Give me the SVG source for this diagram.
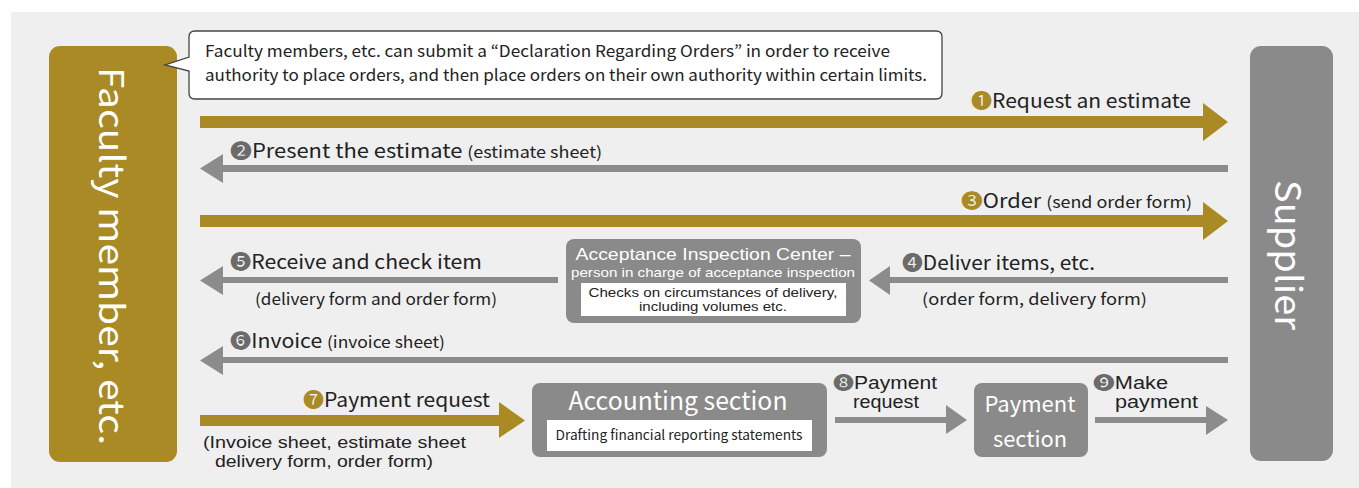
<svg xmlns="http://www.w3.org/2000/svg" width="1359" height="488" viewBox="0 0 1359 488">
<style>
.t{font-family:"Noto Sans CJK JP","Noto Sans",sans-serif;fill:#222;}
.l{font-family:"Liberation Sans","Noto Sans CJK JP",sans-serif;fill:#222;}
.lw{font-family:"Liberation Sans","Noto Sans CJK JP",sans-serif;fill:#fff;}
.w{font-family:"Noto Sans CJK JP","Noto Sans",sans-serif;fill:#fff;}
.g{fill:#a98a24;}
.d{fill:#6b6b6b;}
.gold{fill:#a98a24;}
.gray{fill:#8c8c8c;}
.box{fill:#8a8a8a;}
</style>
<rect x="11" y="12" width="1348" height="476" fill="#efefef"/>

<g id="faculty">
<rect x="49" y="46" width="128" height="416" rx="11" class="gold"/>
<text class="w" font-size="34" text-anchor="middle" dominant-baseline="central" transform="translate(113,256) rotate(90)" textLength="378" lengthAdjust="spacingAndGlyphs">Faculty member, etc.</text>
</g>

<g id="supplier">
<rect x="1250" y="46" width="83" height="415" rx="11" class="box"/>
<text class="w" font-size="36" text-anchor="middle" dominant-baseline="central" transform="translate(1291,255) rotate(90)" textLength="150" lengthAdjust="spacingAndGlyphs">Supplier</text>
</g>

<g id="note">
<path d="M195,31 H936 Q942,31 942,37 V93 Q942,99 936,99 H195 Q189,99 189,93 V71 L165,65 L189,57 V37 Q189,31 195,31 Z" fill="#fff" stroke="#444" stroke-width="1.3"/>
<text class="t" font-size="16" x="205" y="57" textLength="685" lengthAdjust="spacingAndGlyphs">Faculty members, etc. can submit a “Declaration Regarding Orders” in order to receive</text>
<text class="t" font-size="16" x="205" y="81" textLength="722" lengthAdjust="spacingAndGlyphs">authority to place orders, and then place orders on their own authority within certain limits.</text>
</g>

<g id="acceptance">
<rect x="566" y="239" width="295" height="84" rx="8" class="box"/>
<rect x="581" y="283" width="265" height="33" fill="#fff"/>
<text class="lw" font-size="17" x="713" y="260" text-anchor="middle" textLength="275" lengthAdjust="spacingAndGlyphs">Acceptance Inspection Center –</text>
<text class="lw" font-size="13" x="713" y="277" text-anchor="middle" textLength="284" lengthAdjust="spacingAndGlyphs">person in charge of acceptance inspection</text>
<text class="l" font-size="12.5" x="713" y="297" text-anchor="middle" textLength="249" lengthAdjust="spacingAndGlyphs">Checks on circumstances of delivery,</text>
<text class="l" font-size="12.5" x="713" y="311" text-anchor="middle" textLength="148" lengthAdjust="spacingAndGlyphs">including volumes etc.</text>
</g>

<g id="accounting">
<rect x="532" y="383" width="295" height="74" rx="8" class="box"/>
<rect x="547" y="420" width="265" height="31" fill="#fff"/>
<text class="w" font-size="25" x="678" y="410" text-anchor="middle" textLength="219" lengthAdjust="spacingAndGlyphs">Accounting section</text>
<text class="t" font-size="13.5" x="679" y="440" text-anchor="middle" textLength="247" lengthAdjust="spacingAndGlyphs">Drafting financial reporting statements</text>
</g>

<g id="payment">
<rect x="974" y="383" width="114" height="74" rx="8" class="box"/>
<text class="w" font-size="22" x="1030" y="412" text-anchor="middle" textLength="91" lengthAdjust="spacingAndGlyphs">Payment</text>
<text class="w" font-size="22" x="1030" y="447" text-anchor="middle" textLength="74" lengthAdjust="spacingAndGlyphs">section</text>
</g>

<g id="connectors">
<path class="gold" d="M200,116 H1203 V103 L1228,122 L1203,141 V128 H200 Z"/>
<path class="gray" d="M1228,165 H223 V154 L200,168.5 L223,183 V172 H1228 Z"/>
<path class="gold" d="M200,215 H1203 V202 L1228,221 L1203,240 V227 H200 Z"/>
<path class="gray" d="M558,277 H223 V266 L200,280.5 L223,295 V283 H558 Z"/>
<path class="gray" d="M1228,277 H890 V266 L869,280.5 L890,295 V283 H1228 Z"/>
<path class="gray" d="M1228,357 H223 V346 L200,360.5 L223,375 V363 H1228 Z"/>
<path class="gold" d="M200,415 H499 V402 L525,420.5 L499,438 V426 H200 Z"/>
<path class="gray" d="M835,417 H946 V405 L967,420 L946,434 V423 H835 Z"/>
<path class="gray" d="M1095,417 H1206 V406 L1228,420 L1206,435 V423 H1095 Z"/>
</g>

<g id="labels">
<text class="t" font-size="19.5" x="971" y="108" textLength="220" lengthAdjust="spacingAndGlyphs"><tspan class="g">❶</tspan>Request an estimate</text>
<text class="t" font-size="19.5" x="230" y="158" textLength="372" lengthAdjust="spacingAndGlyphs"><tspan class="d">❷</tspan>Present the estimate <tspan font-size="16">(estimate sheet)</tspan></text>
<text class="t" font-size="19.5" x="961" y="208" textLength="231" lengthAdjust="spacingAndGlyphs"><tspan class="g">❸</tspan>Order <tspan font-size="16">(send order form)</tspan></text>
<text class="t" font-size="19.5" x="902" y="270" textLength="193" lengthAdjust="spacingAndGlyphs"><tspan class="d">❹</tspan>Deliver items, etc.</text>
<text class="t" font-size="16" x="922" y="305" textLength="225" lengthAdjust="spacingAndGlyphs">(order form, delivery form)</text>
<text class="t" font-size="19.5" x="230" y="269" textLength="252" lengthAdjust="spacingAndGlyphs"><tspan class="d">❺</tspan>Receive and check item</text>
<text class="t" font-size="16" x="255" y="305" textLength="242" lengthAdjust="spacingAndGlyphs">(delivery form and order form)</text>
<text class="t" font-size="19.5" x="230" y="348" textLength="215" lengthAdjust="spacingAndGlyphs"><tspan class="d">❻</tspan>Invoice <tspan font-size="16">(invoice sheet)</tspan></text>
<text class="t" font-size="19.5" x="303" y="407" textLength="187" lengthAdjust="spacingAndGlyphs"><tspan class="g">❼</tspan>Payment request</text>
<text class="l" font-size="16" x="203" y="448" textLength="263" lengthAdjust="spacingAndGlyphs">(Invoice sheet, estimate sheet</text>
<text class="l" font-size="16" x="215" y="467" textLength="218" lengthAdjust="spacingAndGlyphs">delivery form, order form)</text>
<text class="l" font-size="17.5" x="833" y="389" textLength="104" lengthAdjust="spacingAndGlyphs"><tspan class="d">❽</tspan>Payment</text>
<text class="l" font-size="17.5" x="853" y="408" textLength="66" lengthAdjust="spacingAndGlyphs">request</text>
<text class="l" font-size="17.5" x="1093" y="389" textLength="75" lengthAdjust="spacingAndGlyphs"><tspan class="d">❾</tspan>Make</text>
<text class="l" font-size="17.5" x="1115" y="408" textLength="83" lengthAdjust="spacingAndGlyphs">payment</text>
</g>
</svg>
